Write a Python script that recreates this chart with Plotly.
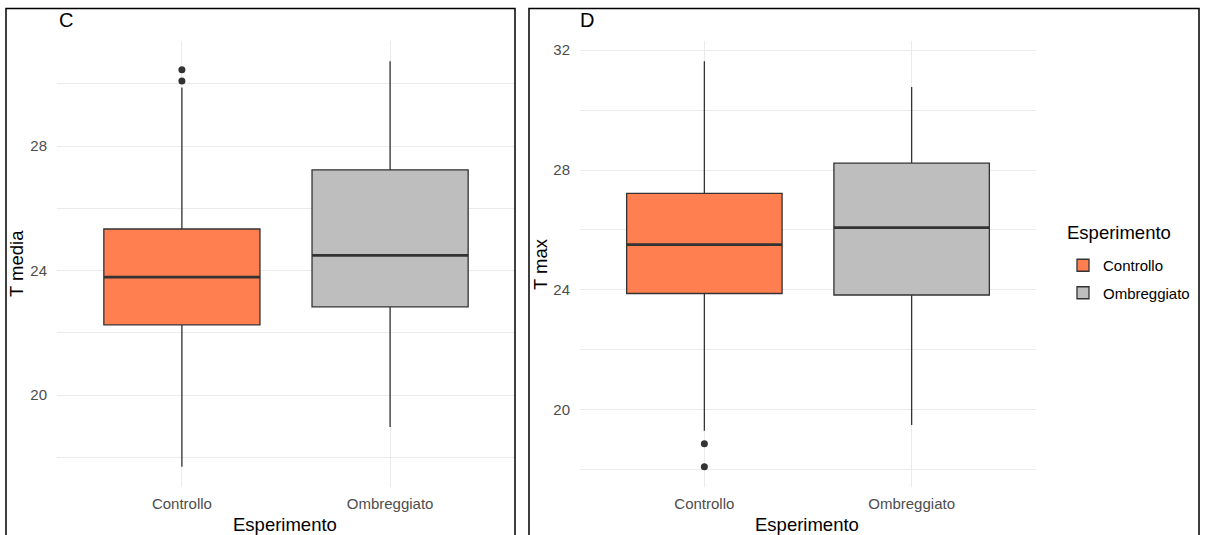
import plotly.graph_objects as go

W, H = 1211, 535

categories = ["Controllo", "Ombreggiato"]
fill_colors = ["#FF7F50", "#BEBEBE"]

# Panel C: T media (box statistics)
tmedia_lower = [17.70, 18.98]
tmedia_q1 = [22.26, 22.84]
tmedia_median = [23.79, 24.49]
tmedia_q3 = [25.34, 27.24]
tmedia_upper = [29.89, 30.73]
tmedia_out_x = ["Controllo", "Controllo"]
tmedia_out_y = [30.10, 30.46]

# Panel D: T max
tmax_lower = [19.30, 19.49]
tmax_q1 = [23.88, 23.83]
tmax_median = [25.51, 26.08]
tmax_q3 = [27.22, 28.23]
tmax_upper = [31.63, 30.77]
tmax_out_x = ["Controllo", "Controllo"]
tmax_out_y = [18.87, 18.10]

y_ticks = [20, 24, 28, 32]

panels = [
    dict(label="C", ytitle="T media", lower=tmedia_lower, q1=tmedia_q1, med=tmedia_median,
         q3=tmedia_q3, upper=tmedia_upper, ox=tmedia_out_x, oy=tmedia_out_y,
         xa="x", ya="y", legend=False),
    dict(label="D", ytitle="T max", lower=tmax_lower, q1=tmax_q1, med=tmax_median,
         q3=tmax_q3, upper=tmax_upper, ox=tmax_out_x, oy=tmax_out_y,
         xa="x2", ya="y2", legend=True),
]

FONT = "Liberation Sans, Arial, sans-serif"
LINE = "#333333"
GRID = "#EBEBEB"

fig = go.Figure()
shapes = []

for p in panels:
    for i, cat in enumerate(categories):
        fig.add_trace(go.Box(
            x=[cat], q1=[p["q1"][i]], median=[p["med"][i]], q3=[p["q3"][i]],
            lowerfence=[p["lower"][i]], upperfence=[p["upper"][i]],
            name=cat, legendgroup=cat, showlegend=p["legend"],
            fillcolor=fill_colors[i], line=dict(color=LINE, width=1.3),
            whiskerwidth=0, width=0.75, boxpoints=False, hoverinfo="y",
            xaxis=p["xa"], yaxis=p["ya"],
        ))
        # thicker median line, as in ggplot2
        shapes.append(dict(type="line", xref=p["xa"], yref=p["ya"],
                           x0=i - 0.375, x1=i + 0.375, y0=p["med"][i], y1=p["med"][i],
                           line=dict(color=LINE, width=2.8), layer="above"))
    fig.add_trace(go.Scatter(
        x=p["ox"], y=p["oy"], mode="markers", showlegend=False,
        marker=dict(color=LINE, size=7), xaxis=p["xa"], yaxis=p["ya"], hoverinfo="y",
    ))

def yrange(p):
    lo = min(p["lower"] + p["oy"])
    hi = max(p["upper"] + p["oy"])
    span = hi - lo
    return [lo - 0.05 * span, hi + 0.05 * span]

y_dom = [1 - 487 / H, 1 - 41 / H]
x_doms = [[57 / W, 515 / W], [580 / W, 1036 / W]]

axis_common = dict(
    type="category", categoryorder="array", categoryarray=categories, range=[-0.6, 1.6],
    showgrid=True, gridcolor=GRID, gridwidth=1, zeroline=False, showline=False, ticks="",
    tickfont=dict(family=FONT, size=15, color="#4D4D4D"), ticklabelstandoff=6,
    automargin=False, fixedrange=True,
)

for k, p in enumerate(panels):
    xname = "xaxis" if k == 0 else "xaxis2"
    yname = "yaxis" if k == 0 else "yaxis2"
    fig.update_layout({
        xname: dict(axis_common, domain=x_doms[k], anchor=p["ya"]),
        yname: dict(
            domain=y_dom, anchor=p["xa"], range=yrange(p), tickvals=y_ticks,
            showgrid=True, gridcolor=GRID, gridwidth=1, zeroline=False, showline=False, ticks="",
            minor=dict(dtick=2, tick0=0, showgrid=True, gridcolor=GRID, gridwidth=0.6),
            tickfont=dict(family=FONT, size=15, color="#4D4D4D"), ticklabelstandoff=9,
            automargin=False, fixedrange=True,
        ),
    })

# panel frames
shapes.append(dict(type="rect", xref="paper", yref="paper", x0=6 / W, x1=515 / W,
                   y0=-0.05, y1=1 - 8.5 / H, line=dict(color="#000000", width=1.5), layer="above"))
shapes.append(dict(type="rect", xref="paper", yref="paper", x0=529 / W, x1=1199 / W,
                   y0=-0.05, y1=1 - 8.5 / H, line=dict(color="#000000", width=1.5), layer="above"))

def px_ann(text, x, y, size, xanchor="center", yanchor="middle", angle=0, color="#000000"):
    return dict(text=text, xref="paper", yref="paper", x=x / W, y=1 - y / H,
                xanchor=xanchor, yanchor=yanchor, textangle=angle, showarrow=False,
                font=dict(family=FONT, size=size, color=color))

annotations = [
    px_ann("C", 57, 20, 20, xanchor="left"),
    px_ann("D", 578, 20, 20, xanchor="left"),
    px_ann("T media", 17, 264, 18.5, angle=-90),
    px_ann("T max", 541, 264, 18.5, angle=-90),
    px_ann("Esperimento", 285, 524, 18.5),
    px_ann("Esperimento", 807, 524, 18.5),
    px_ann("Esperimento", 1065, 232, 18.5, xanchor="left"),
]

fig.update_layout(
    width=W, height=H, autosize=False,
    margin=dict(l=0, r=0, t=0, b=0),
    paper_bgcolor="#FFFFFF", plot_bgcolor="#FFFFFF",
    shapes=shapes, annotations=annotations,
    showlegend=True,
    legend=dict(
        font=dict(family=FONT, size=15, color="#000000"),
        x=1063 / W, xanchor="left", y=1 - 249 / H, yanchor="top",
        bgcolor="rgba(0,0,0,0)", tracegroupgap=5,
    ),
    boxmode="overlay",
)

fig.write_html("out.html", config={"displayModeBar": False},
               post_script="document.body.style.margin='0px';")
